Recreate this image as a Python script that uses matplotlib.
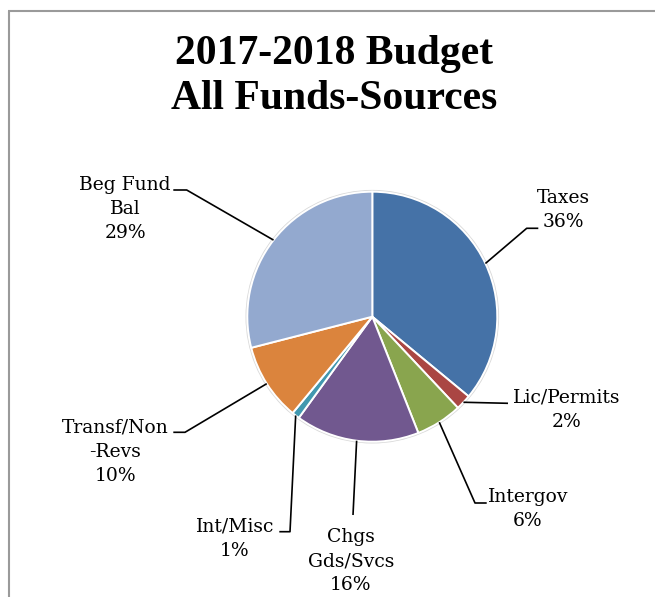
import numpy as np
import matplotlib
matplotlib.use("Agg")
import matplotlib.pyplot as plt
from matplotlib.patches import Circle

# --- data ---------------------------------------------------------------
categories = ["Taxes", "Lic/Permits", "Intergov", "Chgs\nGds/Svcs",
              "Int/Misc", "Transf/Non\n-Revs", "Beg Fund\nBal"]
shares = [36, 2, 6, 16, 1, 10, 29]
colors = ["#4572A7", "#AA4643", "#89A54E", "#71588F",
          "#4198AF", "#DB843D", "#93A9CF"]
title_lines = ["2017-2018 Budget", "All Funds-Sources"]

# --- layout (pixel units, y measured from the top) ----------------------
W, H = 655, 597
CX, CY, R = 372.3, 316.7, 125.0
label_pos = [(563, 210), (567, 410), (528, 509), (351, 561),
             (235, 539), (115.5, 452), (125, 209)]
elbows = [[(526.7, 228.3), (538.3, 228.3)],
          [(508.0, 403.3)],
          [(475.0, 503.0), (486.7, 503.0)],
          [(353.0, 515.0)],
          [(290.0, 531.7), (279.3, 531.7)],
          [(185.0, 432.3), (173.3, 432.3)],
          [(186.7, 190.0), (173.3, 190.0)]]

LABEL_FONT = ["DejaVu Serif"]
TITLE_FONT = ["Liberation Serif", "DejaVu Serif"]

fig = plt.figure(figsize=(W / 100, H / 100), dpi=100)
ax = fig.add_axes([0, 0, 1, 1])


def P(x, y):
    return x, H - y


# soft rim around the pie
ax.add_patch(Circle(P(CX, CY), R + 1.8, facecolor="#d9d9d9",
                    edgecolor="none", zorder=0))

wedges, _ = ax.pie(shares, colors=colors, startangle=90, counterclock=False,
                   center=P(CX, CY), radius=R,
                   wedgeprops=dict(edgecolor="white", linewidth=1.4))

ax.set_xlim(0, W)
ax.set_ylim(0, H)
ax.set_aspect("equal")
ax.axis("off")

total = sum(shares)
for w, cat, v, (lx, ly), pts in zip(wedges, categories, shares,
                                      label_pos, elbows):
    mid = np.deg2rad((w.theta1 + w.theta2) / 2)
    sx = CX + R * np.cos(mid)
    sy = CY - R * np.sin(mid)
    xs = [sx] + [p[0] for p in pts]
    ys = [H - sy] + [H - p[1] for p in pts]
    ax.plot(xs, ys, color="black", lw=1.2, solid_capstyle="butt", zorder=3)
    ax.text(*P(lx, ly), f"{cat}\n{v / total * 100:.0f}%", ha="center",
            va="center", fontsize=13.5, family=LABEL_FONT, linespacing=1.45,
            color="black")

# title
ax.text(*P(334, 54), title_lines[0], ha="center", va="center",
        fontsize=30, fontweight="bold", family=TITLE_FONT)
ax.text(*P(334, 99), title_lines[1], ha="center", va="center",
        fontsize=30, fontweight="bold", family=TITLE_FONT)

# frame edges
ax.plot([8, W], [H - 10.5, H - 10.5], color="#9a9a9a", lw=1.5,
        solid_capstyle="butt")
ax.plot([9, 9], [H - 10.5, 0], color="#9a9a9a", lw=1.5,
        solid_capstyle="butt")

fig.savefig("out.png", dpi=100)
